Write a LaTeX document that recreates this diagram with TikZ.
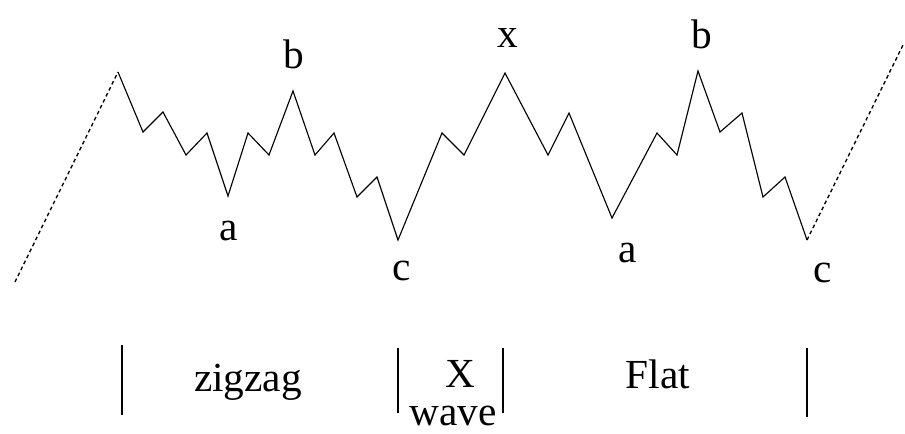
\documentclass[tikz,border=0pt]{standalone}
\usepackage{fontspec}
\setmainfont{Liberation Serif}
\begin{document}
\begin{tikzpicture}[x=0.75pt,y=-0.75pt,
  wave/.style={line width=0.85pt,line join=miter},
  lead/.style={line width=1pt,dash pattern=on 2.8pt off 2.2pt},
  bar/.style={line width=1pt},
  lbl/.style={font=\fontsize{31}{35}\selectfont,anchor=base,inner sep=0pt}]
\useasboundingbox (0,0) rectangle (905,433);
% wave vertices
\coordinate (s0) at (15,282);
\coordinate (p0) at (118,72);
\coordinate (p1) at (143,132);
\coordinate (p2) at (163,112);
\coordinate (p3) at (186,155);
\coordinate (p4) at (207,133);
\coordinate (A1) at (228,196);
\coordinate (p6) at (248,133);
\coordinate (p7) at (269,155);
\coordinate (B1) at (293,91);
\coordinate (p9) at (315,155);
\coordinate (p10) at (334,133);
\coordinate (p11) at (357,197);
\coordinate (p12) at (377,177);
\coordinate (C1) at (398,240);
\coordinate (p14) at (442,133);
\coordinate (p15) at (464,155);
\coordinate (X1) at (505,73);
\coordinate (p17) at (548,155);
\coordinate (p18) at (569,113);
\coordinate (A2) at (612,218);
\coordinate (p20) at (657,133);
\coordinate (p21) at (677,155);
\coordinate (B2) at (698,71);
\coordinate (p23) at (720,132);
\coordinate (p24) at (742,113);
\coordinate (p25) at (763,197);
\coordinate (p26) at (785,177);
\coordinate (C2) at (807,240);
\coordinate (e0) at (904,43);
\draw[lead] (s0) -- (p0);
\draw[wave] (p0) -- (p1) -- (p2) -- (p3) -- (p4) -- (A1) -- (p6) -- (p7) -- (B1)
  -- (p9) -- (p10) -- (p11) -- (p12) -- (C1) -- (p14) -- (p15) -- (X1) -- (p17)
  -- (p18) -- (A2) -- (p20) -- (p21) -- (B2) -- (p23) -- (p24) -- (p25) -- (p26) -- (C2);
\draw[lead] (C2) -- (e0);
% point labels
\node[lbl] (la1) at (229,240) {a};
\node[lbl] (lb1) at (294,68) {b};
\node[lbl] (lc1) at (402,280) {c};
\node[lbl] (lx) at (508,47) {x};
\node[lbl] (lb2) at (702,48) {b};
\node[lbl] (la2) at (628,262) {a};
\node[lbl] (lc2) at (823,282) {c};
% section bars
\coordinate (t1) at (122,345); \coordinate (u1) at (122,415);
\coordinate (t2) at (398,348); \coordinate (u2) at (398,413);
\coordinate (t3) at (503,348); \coordinate (u3) at (503,413);
\coordinate (t4) at (807,348); \coordinate (u4) at (807,417);
\draw[bar] (t1) -- (u1);
\draw[bar] (t2) -- (u2);
\draw[bar] (t3) -- (u3);
\draw[bar] (t4) -- (u4);
% section labels
\node[lbl] (zz) at (248,391) {zigzag};
\node[lbl] (xx) at (460,387) {X};
\node[lbl] (wv) at (453,425) {wave};
\node[lbl] (fl) at (658,388) {Flat};
\end{tikzpicture}
\end{document}
